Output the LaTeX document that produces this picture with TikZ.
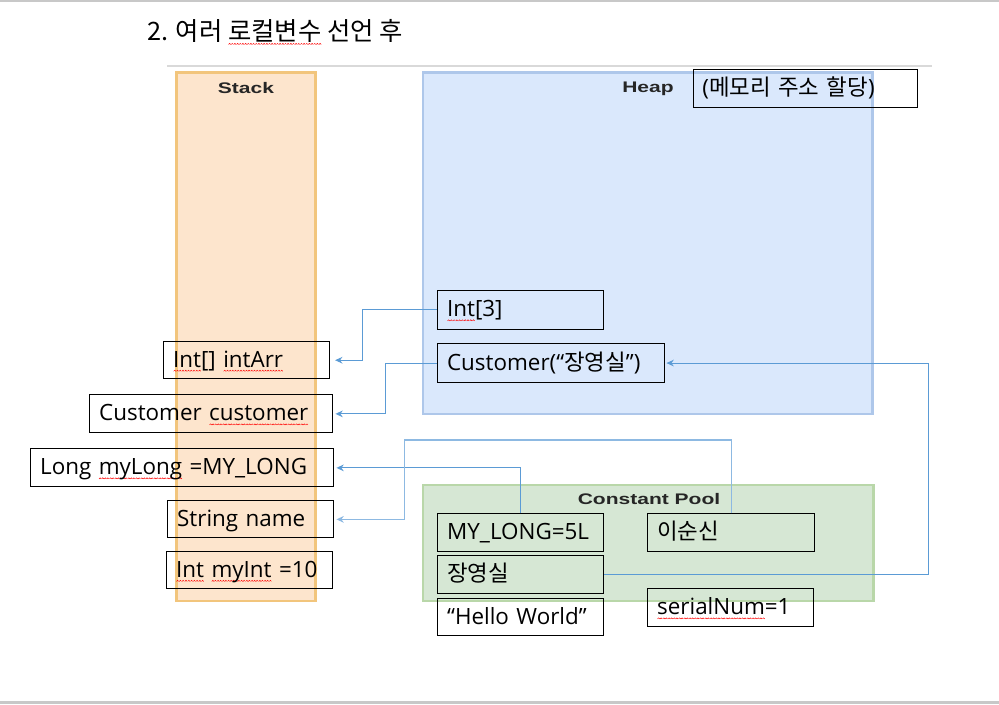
\documentclass[tikz,border=0pt]{standalone}
\usepackage{fontspec}
\usepackage{graphicx}
\setmainfont{Open Sans}
\newfontfamily\kr{Noto Sans CJK KR}
\newfontfamily\hdfont{Liberation Sans}
\usetikzlibrary{arrows.meta}
\definecolor{stackfill}{HTML}{FDE5CD}
\definecolor{stackline}{HTML}{F2C57C}
\definecolor{heapfill}{HTML}{DAE8FC}
\definecolor{heapline}{HTML}{AEC7EA}
\definecolor{poolfill}{HTML}{D6E7D4}
\definecolor{poolline}{HTML}{B9D7A9}
\definecolor{conncol}{HTML}{5B9BD5}
\definecolor{connlight}{HTML}{8DB9E2}
\definecolor{hdcol}{HTML}{262626}
\definecolor{sepgray}{HTML}{D9D9D9}
\definecolor{borderg}{HTML}{C8C8C8}
\newsavebox\wavebox
\newcommand\rw[1]{\setbox0\hbox{#1}\rlap{\raisebox{-3.2pt}{\hbox to \wd0{\xleaders\copy\wavebox\hfill}}}#1}
\newcommand\bstrut{\rule[-4pt]{0pt}{18.5pt}}
\tikzset{
  region/.style={line width=2.2pt},
  membox/.style={draw=black, line width=0.85pt, inner xsep=7pt, inner ysep=0pt, align=left,
    font=\fontsize{16.8}{20}\selectfont},
  hd/.style={font=\hdfont\bfseries\fontsize{11.5}{13}\selectfont, text=hdcol},
  conn/.style={draw=conncol, line width=0.8pt, -{Stealth[length=5.5pt,width=5pt]}},
}
\newcommand\mybox[6]{%
  \pgfmathsetmacro\bw{(#4-#2)*0.75}%
  \pgfmathsetmacro\bh{(#5-#3)*0.75}%
  \pgfmathsetmacro\tw{(#4-#2)*0.75-14}%
  \node[membox, minimum width=\bw pt, minimum height=\bh pt, text width=\tw pt, anchor=north west] (#1) at (#2,#3) {\bstrut#6};}
\begin{document}
\sbox\wavebox{\pgfpicture\pgfsetlinewidth{0.35pt}\pgfsetstrokecolor{red}\pgfpathmoveto{\pgfpoint{0pt}{0pt}}\pgfpathlineto{\pgfpoint{0.8pt}{0.8pt}}\pgfpathlineto{\pgfpoint{1.6pt}{0pt}}\pgfusepath{stroke}\endpgfpicture}%
\begin{tikzpicture}[x=0.75pt,y=-0.75pt]
\useasboundingbox (0,0) rectangle (999,704);
% page borders
\fill[borderg] (0,0) rectangle (999,2);
\fill[borderg] (0,701) rectangle (999,704);
% title
\node[anchor=west, font=\kr\fontsize{19}{22}\selectfont, inner sep=0] (title) at (147,32) {2. 여러 \rw{로컬변수} 선언 후};
% separator
\draw[sepgray, line width=1.6pt] (167,66) -- (932,66);
% regions
\draw[region, draw=stackline, fill=stackfill] (176.7,72.3) rectangle (315.7,601);
\draw[region, draw=heapline, fill=heapfill] (423,72.3) rectangle (872.7,414);
\draw[region, draw=poolline, fill=poolfill] (423,485) rectangle (873.3,601);
\node[hd] (stacklbl) at (246,88.5) {\scalebox{1.37}[1]{Stack}};
\node[hd] (heaplbl) at (648,88.5) {\scalebox{1.37}[1]{Heap}};
\node[hd] (poollbl) at (649,499.5) {\scalebox{1.37}[1]{Constant Pool}};
\mybox{memo}{692.5}{68.5}{917}{106.5}{({\kr 메모리 주소 할당})}
% stack boxes
\mybox{intArr}{163.3}{341}{329.3}{378.3}{\rw{Int}[]\ \rw{intArr}}
\mybox{customer}{89.3}{394.3}{332.3}{432.3}{Customer \rw{customer}}
\mybox{myLong}{30.3}{448.3}{333.3}{486.3}{Long \rw{myLong} =MY\_LONG}
\mybox{name}{167.3}{500.3}{333.3}{537.3}{String name}
\mybox{myInt}{166.3}{551.3}{332.3}{588.3}{\rw{Int} \rw{myInt} =10}
% heap boxes
\mybox{int3}{437.2}{289.6}{603.2}{328.9}{\rw{Int}[3]}
\mybox{cust}{437.2}{343.3}{664}{381.7}{Customer(“{\kr 장영실}”)}
% constant pool boxes
\mybox{myl5}{437.3}{513.3}{603}{551}{MY\_LONG=5L}
\mybox{lee}{647.3}{513.3}{814.3}{551}{{\kr 이순신}}
\mybox{jang}{437.3}{555.3}{603}{593.3}{{\kr 장영실}}
\mybox{hello}{437.3}{598.3}{603}{635.3}{“Hello World”}
\mybox{serial}{647.3}{588.3}{813.3}{626.3}{\rw{serialNum}=1}
% connectors
\draw[conn] (int3.west) -- ++(-75,0) |- ([xshift=3.5pt]intArr.east);
\draw[conn] (cust.west) -- ++(-52,0) |- ([xshift=1.5pt]customer.east);
\draw[conn] (myl5.north) |- ([xshift=1.5pt]myLong.east);
\coordinate (bend4) at (404.5,440);
\draw[conn, draw=connlight, line width=1.1pt] (lee.north) |- (bend4) |- ([xshift=1.5pt]name.east);
\draw[conn] (jang.east) -| (928.3,470) |- ([xshift=1pt]cust.east);
\end{tikzpicture}
\end{document}
